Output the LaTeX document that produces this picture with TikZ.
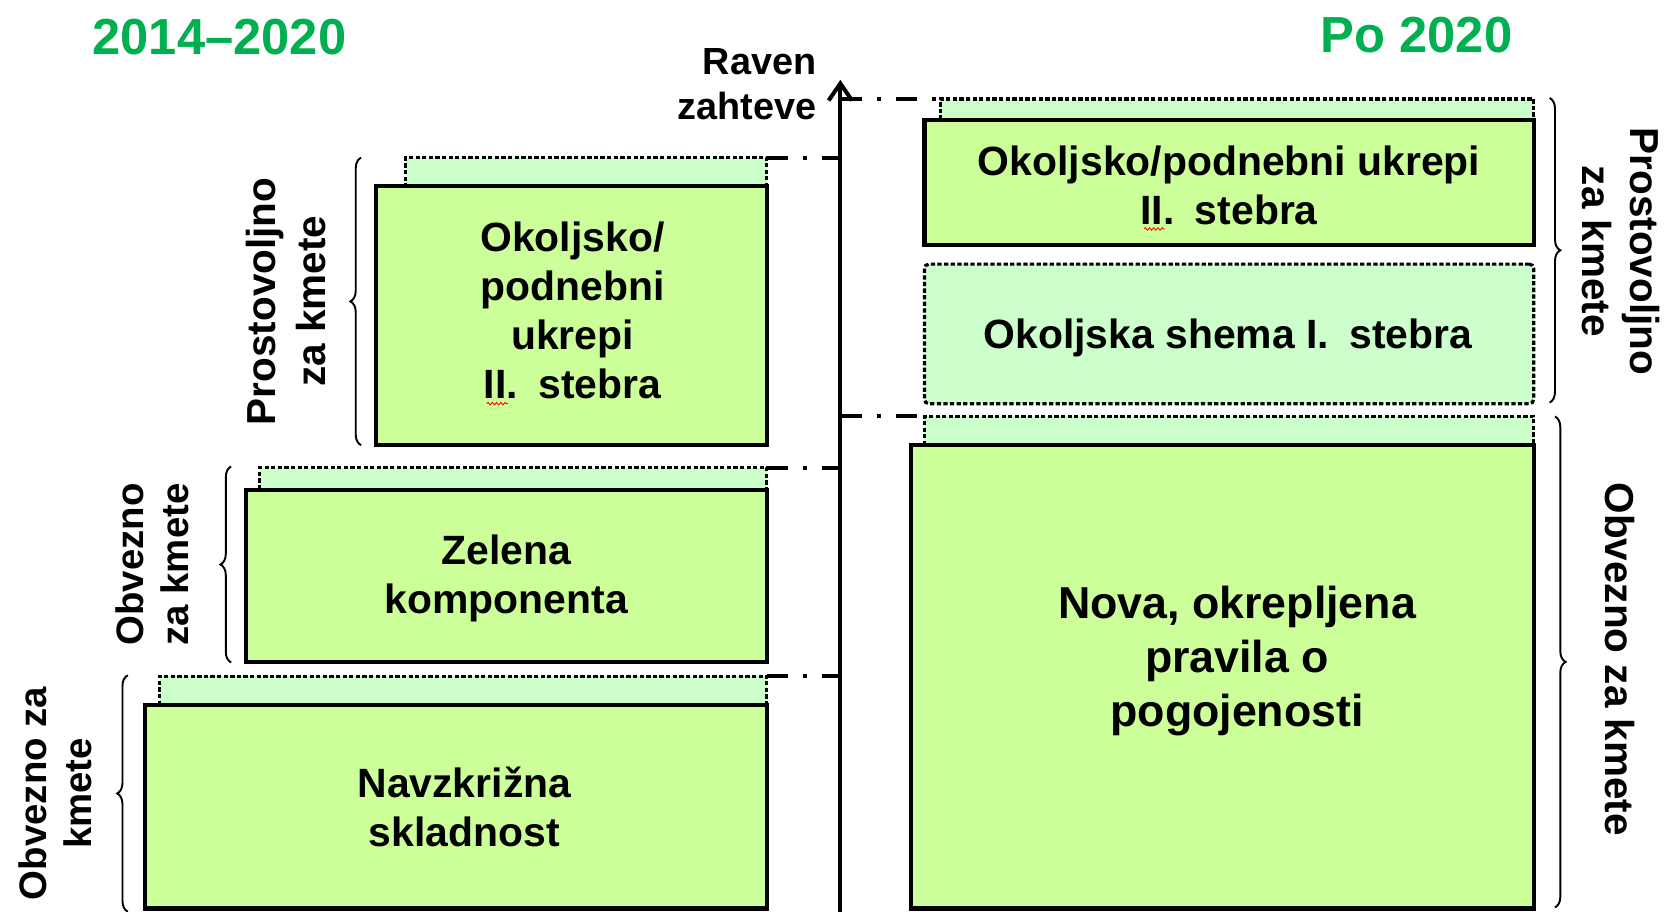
\documentclass[tikz,border=0pt]{standalone}
\usepackage{fontspec}
\setmainfont{Liberation Sans}
\usetikzlibrary{arrows.meta,decorations.pathreplacing,decorations.pathmorphing,calc}
\definecolor{frontfill}{HTML}{CCFF99}
\definecolor{backfill}{HTML}{CCFFCC}
\definecolor{titlegreen}{HTML}{00B050}
\begin{document}
\begin{tikzpicture}[x=0.5pt,y=-0.5pt,
  frontbox/.style={draw=black, line width=1.9pt, fill=frontfill, anchor=north west, inner sep=0pt, outer sep=0pt},
  backbox/.style={draw=black, line width=1.5pt, dash pattern=on 2pt off 1.1pt, fill=backfill, anchor=north west, inner sep=0pt, outer sep=0pt},
  boxtext/.style={font=\bfseries\fontsize{19.2}{23}\selectfont, align=center, inner sep=0pt},
  levelline/.style={line width=1.9pt, dash pattern=on 10pt off 7pt on 2pt off 7pt},
  bracketline/.style={line width=0.9pt, decorate, decoration={brace, amplitude=5pt, aspect=0.5}},
  sidelabel/.style={font=\bfseries\fontsize{18.5}{22.5}\selectfont, align=center, inner sep=0pt},
  titletext/.style={font=\bfseries\fontsize{23.8}{28}\selectfont, text=titlegreen, inner sep=0pt},
  squiggle/.style={draw=red, line width=0.4pt, decorate, decoration={snake, segment length=2pt, amplitude=0.6pt}},
  axisarrow/.style={line width=1.9pt, -{Straight Barb[length=8pt,width=11pt]}},
  ]
\useasboundingbox (0,0) rectangle (1568,856);

% titles
\node[titletext] (tleft) at (206,35) {2014–2020};
\node[titletext] (tright) at (1330,33) {Po 2020};

% axis
\coordinate (axbot) at (789,858);
\coordinate (axtop) at (789,75);
\draw[axisarrow] (axbot) -- (axtop);
\node[font=\bfseries\fontsize{17.75}{21.5}\selectfont, align=right, anchor=east, inner sep=0pt] (raven) at (767,79) {Raven\\zahteve};

% left column: shadows
\node[backbox, minimum width=169.5pt, minimum height=21pt] (l1s) at (381,148) {};
\node[backbox, minimum width=238pt, minimum height=18pt] (l2s) at (244,439) {};
\node[backbox, minimum width=285pt, minimum height=20pt] (l3s) at (150,635) {};
% left column: boxes
\node[frontbox, minimum width=183.5pt, minimum height=121.5pt] (l1) at (353,175) {};
\node[frontbox, minimum width=244.5pt, minimum height=81pt] (l2) at (231,460) {};
\node[frontbox, minimum width=292pt, minimum height=95.5pt] (l3) at (136,662) {};

\node[boxtext] (l1t) at ($(l1.center)+(1,-5)$) {Okoljsko/\\podnebni\\ukrepi\\II.\enspace stebra};
\node[boxtext] (l2t) at ($(l2.center)+(0,2)$) {Zelena\\komponenta};
\node[boxtext] (l3t) at ($(l3.center)+(8,0)$) {Navzkrižna\\skladnost};

% right column
\node[backbox, minimum width=278.5pt, minimum height=15pt] (r1s) at (883,93) {};
\node[frontbox, minimum width=286pt, minimum height=58.5pt] (r1) at (868,113) {};
\node[backbox, rounded corners=2pt, minimum width=286pt, minimum height=65.5pt] (r2) at (868,248) {};
\node[backbox, minimum width=286pt, minimum height=18pt] (r3s) at (868,391) {};
\node[frontbox, minimum width=292.5pt, minimum height=217.5pt] (r3) at (855,418) {};

\node[boxtext] (r1t) at ($(r1.center)+(0,3)$) {Okoljsko/podnebni ukrepi\\II.\enspace stebra};
\node[boxtext] (r2t) at ($(r2.center)+(-1,4)$) {Okoljska shema I.\enspace stebra};
\node[boxtext, font=\bfseries\fontsize{21}{25.5}\selectfont] (r3t) at ($(r3.center)+(14,-15)$) {Nova, okrepljena\\pravila o\\pogojenosti};

% spell-check squiggles
\draw[squiggle] (457,379) -- (477,379);
\draw[squiggle] (1074,215) -- (1094,215);

% level lines
\draw[levelline] (l1s.north east) -- (l1s.north east -| axtop);
\draw[levelline] (l2s.north east) -- (l2s.north east -| axtop);
\draw[levelline] (l3s.north east) -- (l3s.north east -| axtop);
\draw[levelline] (r1s.north west -| axtop) -- (r1s.north west);
\draw[levelline] (r3s.north west -| axtop) -- (r3s.north west);

% brackets
\coordinate (b1a) at (339,418); \coordinate (b1b) at (339,148);
\coordinate (b2a) at (217,622); \coordinate (b2b) at (217,438);
\coordinate (b3a) at (120,856); \coordinate (b3b) at (120,634);
\coordinate (b4a) at (1455,92); \coordinate (b4b) at (1455,378);
\coordinate (b5a) at (1460,391); \coordinate (b5b) at (1460,852);
\draw[bracketline] (b1a) -- (b1b);
\draw[bracketline] (b2a) -- (b2b);
\draw[bracketline] (b3a) -- (b3b);
\draw[bracketline] (b4a) -- (b4b);
\draw[bracketline] (b5a) -- (b5b);

% side labels
\node[sidelabel, rotate=90, font=\bfseries\fontsize{19}{23.5}\selectfont] (s1) at (269,283) {Prostovoljno\\za kmete};
\node[sidelabel, rotate=90, font=\bfseries\fontsize{18}{21.5}\selectfont] (s2) at (143,530) {Obvezno\\za kmete};
\node[sidelabel, rotate=90, font=\bfseries\fontsize{18}{21.5}\selectfont] (s3) at (52,745) {Obvezno za\\kmete};
\node[sidelabel, rotate=-90, font=\bfseries\fontsize{19}{22.5}\selectfont] (s4) at (1522,236) {Prostovoljno\\za kmete};
\node[sidelabel, rotate=-90, font=\bfseries\fontsize{19}{22.5}\selectfont] (s5) at (1521,619) {Obvezno za kmete};
\end{tikzpicture}
\end{document}
